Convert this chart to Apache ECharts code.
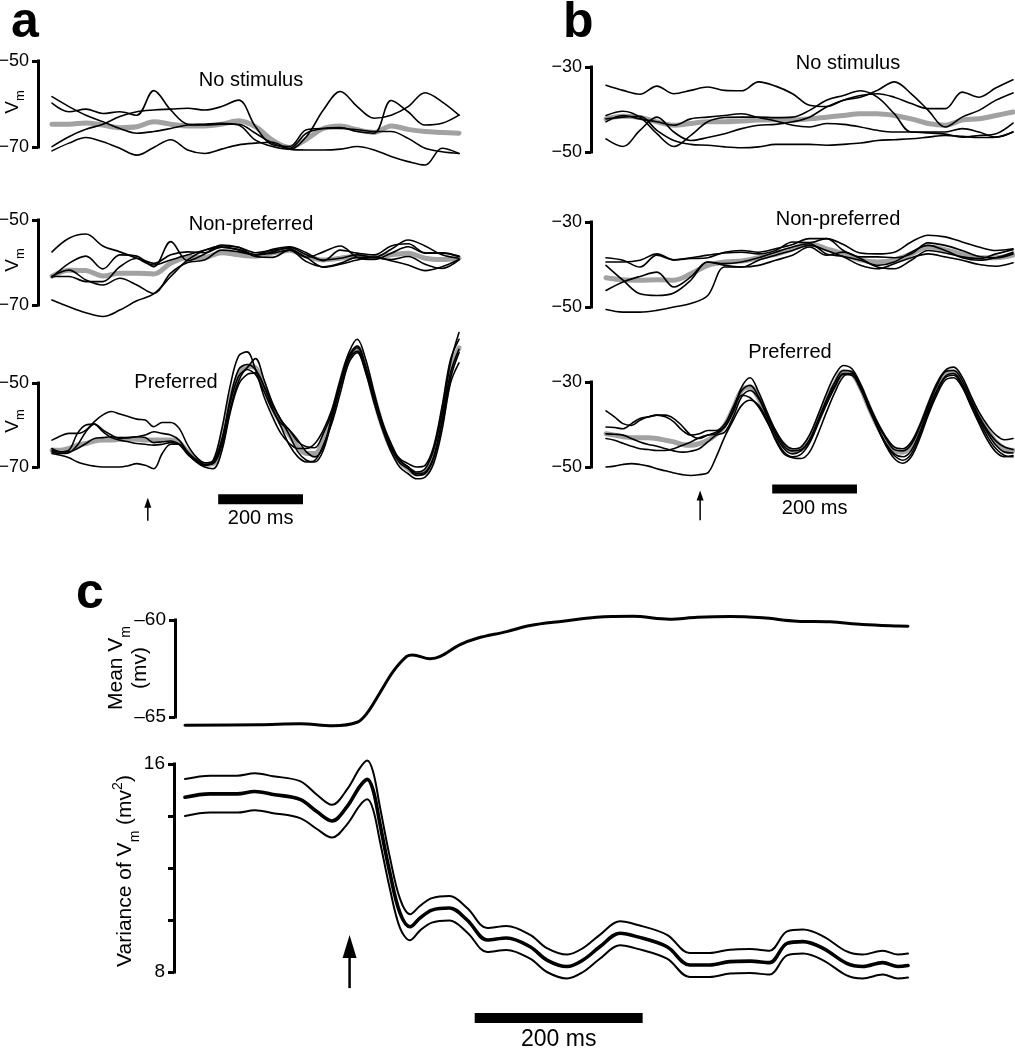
<!DOCTYPE html>
<html><head><meta charset="utf-8">
<script src="https://cdn.jsdelivr.net/npm/echarts@6/dist/echarts.min.js"></script>
<style>html,body{margin:0;padding:0;background:#fff}#chart{width:1015px;height:1050px}</style>
</head><body><div id="chart"></div>
<script>
// ---------- time bases (ms) ----------
const tA = [0,40,80,120,160,200,240,280,320,360,400,440,480,520,560,600,640,680,720,760,800,840,880,920,960];
const tP = [0,20,40,60,80,100,120,140,160,180,200,220,240,260,280,300,320,340,360,380,400,420,440,460,480,500,520,540,560,580,600,620,640,660,680,700,720,740,760,780,800,820,840,860,880,900,920,940,960];

// ---------- panel a, no stimulus (mV) ----------
const a1Trace1 = [-58.3,-60.6,-62.6,-64.1,-65.7,-66.8,-66.4,-65.7,-64.9,-64.7,-64.5,-64.9,-68.4,-69.9,-70.5,-67.6,-61.4,-57.1,-60.6,-63.3,-62.6,-60.6,-57.4,-59.5,-62.6];
const a1Trace2 = [-59.8,-61.8,-61.2,-62.2,-61.8,-62.6,-56.9,-61.4,-64.7,-64.9,-64.7,-64.7,-66.8,-69.1,-70.3,-66.8,-65.7,-65.5,-66.4,-66.8,-59.2,-61.8,-64.9,-64.5,-62.6];
const a1Trace3 = [-69.9,-67.6,-65.9,-64.7,-62.9,-61.8,-61.4,-61.2,-61.0,-61.4,-60.6,-59.1,-65.3,-69.5,-69.9,-66.0,-65.7,-65.7,-66.0,-66.4,-66.4,-68.0,-70.3,-71.1,-71.5];
const a1Trace4 = [-70.9,-69.1,-67.8,-68.8,-70.3,-71.9,-70.1,-68.3,-70.7,-71.5,-70.5,-69.5,-69.1,-68.9,-70.5,-70.7,-70.7,-70.5,-69.9,-70.7,-72.2,-73.4,-74.2,-70.3,-71.5];
const a1Mean   = [-64.7,-64.7,-64.4,-64.9,-65.5,-65.3,-64.1,-64.7,-65.1,-65.1,-64.7,-63.9,-65.3,-68.4,-70.1,-68.2,-65.7,-65.1,-66.0,-66.6,-65.1,-65.9,-66.4,-66.6,-66.8];

// ---------- panel a, non-preferred ----------
const a2Trace1 = [-57.5,-54.3,-53.3,-56.1,-57.5,-59.0,-60.6,-59.4,-58.2,-57.1,-56.4,-57.1,-58.2,-57.5,-56.4,-58.2,-59.4,-59.0,-58.2,-58.8,-56.9,-54.7,-56.1,-58.2,-59.0];
const a2Trace2 = [-63.5,-60.2,-58.5,-61.5,-58.2,-58.5,-61.0,-55.1,-59.6,-58.0,-55.9,-56.4,-57.7,-57.1,-56.7,-58.8,-57.5,-56.1,-58.8,-59.3,-57.8,-56.3,-57.8,-57.8,-58.6];
const a2Trace3 = [-63.2,-61.8,-64.1,-65.3,-63.7,-65.3,-67.3,-62.5,-60.0,-59.4,-57.1,-57.5,-58.2,-57.8,-57.1,-59.8,-61.0,-60.2,-58.8,-58.8,-59.3,-58.6,-60.4,-61.4,-59.4];
const a2Trace4 = [-68.8,-70.4,-71.8,-72.7,-71.2,-69.0,-67.4,-63.3,-59.4,-57.1,-56.1,-56.4,-58.6,-58.8,-57.1,-58.8,-61.1,-60.4,-59.4,-58.8,-59.6,-60.6,-61.9,-61.0,-59.3];
const a2Trace5 = [-63.3,-63.3,-64.5,-64.5,-61.0,-59.0,-60.2,-58.2,-57.5,-57.7,-56.4,-56.9,-58.2,-56.9,-56.3,-57.7,-59.6,-57.1,-57.8,-58.2,-56.1,-55.6,-57.7,-57.7,-58.5];
const a2Mean   = [-63.2,-61.8,-61.9,-63.2,-62.5,-62.5,-62.7,-60.2,-58.8,-58.8,-57.7,-58.2,-58.5,-57.8,-57.1,-58.5,-59.4,-59.0,-58.5,-58.8,-58.2,-57.8,-59.0,-59.3,-59.0];

// ---------- panel a, preferred ----------
const a3Trace1 = [-63.6,-62.6,-62.0,-62.0,-61.2,-59.2,-57.6,-56.8,-57.4,-58.0,-58.6,-58.8,-60.4,-59.4,-59.4,-60.8,-64.8,-67.6,-69.0,-68.4,-61.2,-50.8,-43.6,-42.6,-46.8,-53.2,-58.0,-62.0,-64.4,-65.6,-65.6,-64.4,-61.2,-56.4,-49.2,-42.8,-39.6,-44.4,-52.4,-59.6,-64.4,-68.4,-70.0,-71.2,-70.4,-66.0,-57.2,-45.2,-38.0];
const a3Trace2 = [-65.6,-66.4,-66.0,-62.0,-60.0,-59.8,-61.2,-62.4,-63.2,-63.0,-62.8,-62.4,-61.6,-62.0,-62.4,-63.6,-66.4,-68.4,-69.4,-68.8,-63.6,-54.8,-48.4,-46.4,-44.2,-49.2,-54.8,-58.8,-61.2,-64.0,-65.2,-65.4,-62.0,-57.2,-50.0,-43.6,-41.2,-46.0,-53.2,-59.6,-65.2,-68.0,-69.2,-70.0,-69.6,-65.2,-55.6,-44.4,-39.6];
const a3Trace3 = [-66.0,-66.4,-66.4,-65.6,-64.4,-63.2,-63.0,-62.8,-63.0,-63.0,-62.8,-63.0,-64.2,-64.0,-63.8,-64.6,-66.6,-68.2,-69.4,-69.2,-65.2,-56.4,-49.6,-46.8,-48.0,-52.0,-56.4,-59.6,-61.2,-63.6,-66.4,-67.6,-65.2,-58.0,-50.8,-44.4,-42.4,-46.8,-54.0,-60.4,-65.6,-68.4,-70.0,-71.6,-71.2,-67.6,-58.8,-47.6,-42.0];
const a3Trace4 = [-66.8,-67.2,-67.8,-68.8,-69.4,-69.8,-70.0,-70.0,-70.0,-69.7,-69.2,-69.6,-70.4,-66.8,-64.6,-64.6,-66.8,-68.8,-70.0,-70.4,-66.4,-57.2,-50.4,-48.0,-47.6,-50.8,-56.0,-60.4,-64.8,-67.6,-68.8,-68.4,-64.8,-59.6,-52.4,-45.2,-42.8,-47.6,-54.8,-61.2,-66.4,-70.0,-71.6,-72.8,-72.4,-69.2,-61.2,-50.0,-45.2];
const a3Trace5 = [-66.4,-66.8,-66.6,-64.8,-61.6,-59.8,-61.6,-63.0,-63.6,-64.0,-64.4,-64.6,-64.8,-64.6,-64.2,-64.6,-67.0,-68.6,-69.6,-69.0,-64.4,-54.0,-46.8,-45.6,-46.8,-50.8,-55.2,-58.8,-62.4,-66.4,-68.4,-68.8,-66.0,-58.8,-50.8,-44.0,-41.6,-46.4,-53.6,-60.4,-65.6,-69.0,-70.4,-72.0,-71.6,-68.0,-59.6,-48.8,-42.8];
const a3Mean   = [-66.0,-66.0,-65.6,-64.8,-64.4,-63.8,-63.6,-63.6,-63.4,-63.4,-63.4,-63.6,-63.6,-63.6,-63.6,-64.2,-66.4,-68.2,-69.4,-69.2,-64.0,-54.4,-48.0,-46.0,-46.4,-50.8,-55.8,-59.6,-62.4,-65.2,-66.8,-66.8,-63.6,-58.0,-50.4,-44.0,-41.6,-46.0,-53.6,-60.4,-65.6,-68.8,-70.4,-71.6,-71.2,-67.2,-58.4,-47.2,-41.6];

// ---------- panel b, no stimulus ----------
const b1Trace1 = [-34.3,-35.5,-36.4,-34.5,-36.3,-35.5,-34.7,-35.5,-35.6,-33.5,-34.5,-36.3,-39.0,-39.3,-37.8,-36.7,-36.3,-37.1,-38.6,-39.8,-39.8,-35.9,-37.1,-34.9,-33.0];
const b1Trace2 = [-41.4,-40.4,-41.8,-45.7,-48.7,-46.1,-42.9,-41.9,-41.8,-41.8,-41.9,-41.8,-40.2,-37.8,-36.7,-35.6,-37.1,-41.0,-45.3,-45.3,-45.3,-44.5,-45.3,-46.5,-45.3];
const b1Trace3 = [-42.2,-41.8,-41.6,-44.9,-47.3,-48.2,-48.4,-48.8,-49.0,-48.8,-48.2,-48.2,-48.2,-48.4,-48.2,-47.9,-47.3,-47.1,-46.9,-46.5,-46.1,-46.3,-46.6,-46.5,-45.3];
const b1Trace4 = [-46.9,-48.7,-44.9,-41.8,-45.3,-47.3,-46.6,-45.7,-44.5,-43.7,-43.5,-42.9,-41.8,-39.4,-37.8,-37.1,-35.5,-33.5,-36.3,-40.2,-44.1,-41.8,-40.2,-37.8,-36.1];
const b1Trace5 = [-42.9,-41.4,-42.2,-42.9,-43.7,-42.2,-41.8,-41.4,-41.0,-41.9,-42.7,-43.7,-44.1,-43.3,-43.5,-44.1,-44.9,-45.3,-45.3,-45.5,-45.8,-46.5,-46.1,-45.7,-43.2];
const b1Mean   = [-42.2,-41.6,-41.9,-42.9,-43.7,-43.3,-42.9,-42.9,-42.7,-42.5,-42.4,-42.5,-42.2,-41.8,-41.4,-41.0,-41.0,-41.4,-42.2,-43.3,-43.7,-42.5,-42.2,-41.4,-40.6];

// ---------- panel b, non-preferred ----------
const b2Trace1 = [-38.4,-39.0,-40.6,-37.8,-38.9,-38.6,-38.4,-37.1,-36.7,-37.1,-36.3,-35.3,-33.9,-33.9,-35.3,-37.3,-37.5,-37.1,-34.7,-33.1,-33.5,-34.7,-35.9,-36.7,-36.3];
const b2Trace2 = [-40.2,-43.7,-46.9,-47.3,-46.7,-43.7,-39.4,-40.2,-40.6,-39.0,-37.8,-36.7,-35.5,-36.7,-38.2,-40.2,-41.0,-39.8,-38.4,-37.5,-38.2,-39.0,-40.0,-40.4,-39.6];
const b2Trace3 = [-46.1,-44.1,-42.8,-41.8,-45.3,-42.9,-39.4,-39.8,-39.4,-38.4,-37.1,-35.9,-35.1,-37.5,-38.1,-39.0,-40.2,-39.4,-37.1,-35.5,-36.7,-38.4,-39.0,-38.4,-37.1];
const b2Trace4 = [-50.6,-51.2,-51.2,-50.8,-50.0,-49.2,-47.3,-40.6,-40.6,-40.2,-39.0,-37.8,-35.9,-37.8,-37.1,-38.6,-40.6,-41.0,-39.0,-36.7,-37.3,-38.2,-38.6,-37.5,-36.5];
const b2Trace5 = [-39.4,-39.4,-39.0,-37.5,-38.9,-38.4,-37.8,-37.3,-37.1,-37.5,-36.7,-34.7,-34.9,-33.9,-36.7,-38.2,-38.2,-38.4,-37.5,-34.9,-35.5,-36.7,-38.1,-38.4,-37.5];
const b2Mean   = [-43.1,-43.6,-43.7,-43.6,-43.7,-42.2,-40.2,-39.4,-39.2,-38.4,-37.6,-36.3,-35.1,-36.3,-37.5,-38.9,-39.4,-38.9,-37.5,-35.9,-36.5,-37.6,-38.4,-38.4,-37.8];

// ---------- panel b, preferred ----------
const b3Trace1 = [-36.8,-38.2,-39.8,-40.2,-39.0,-38.2,-37.8,-37.8,-38.6,-40.4,-42.5,-43.3,-42.5,-41.8,-40.6,-36.7,-31.2,-29.0,-32.4,-37.1,-41.4,-44.5,-45.7,-45.3,-42.5,-37.8,-32.7,-28.4,-26.1,-26.9,-30.4,-35.1,-39.4,-42.9,-45.3,-45.7,-44.1,-40.2,-35.1,-30.4,-27.3,-26.5,-28.8,-33.1,-37.1,-40.2,-42.5,-43.6,-43.3];
const b3Trace2 = [-40.6,-40.7,-41.0,-39.8,-38.6,-38.2,-37.8,-38.2,-39.4,-41.4,-42.5,-42.2,-41.4,-41.4,-39.9,-35.9,-32.0,-30.8,-33.5,-37.8,-41.8,-45.1,-46.2,-45.9,-43.6,-39.0,-34.2,-30.0,-27.3,-27.6,-30.8,-35.5,-39.8,-43.3,-45.9,-46.2,-44.7,-40.6,-35.7,-31.0,-27.6,-27.3,-29.6,-33.9,-38.1,-41.4,-43.9,-45.3,-45.9];
const b3Trace3 = [-42.2,-42.3,-42.5,-43.3,-44.1,-44.7,-45.1,-45.7,-46.2,-46.5,-46.3,-45.7,-44.1,-42.5,-41.8,-38.2,-33.5,-32.0,-33.9,-38.2,-42.5,-45.7,-46.9,-46.2,-43.9,-39.4,-34.7,-30.8,-28.0,-28.0,-31.2,-36.3,-40.6,-44.4,-46.9,-47.6,-46.1,-41.8,-36.5,-32.0,-28.7,-28.0,-30.4,-34.7,-38.6,-42.0,-44.9,-46.5,-46.7];
const b3Trace4 = [-43.3,-43.7,-44.4,-45.1,-45.7,-45.9,-46.1,-46.1,-45.7,-44.9,-44.1,-43.1,-42.5,-42.2,-40.6,-37.1,-33.1,-33.7,-35.9,-39.4,-43.3,-46.5,-47.6,-47.0,-44.4,-39.8,-35.3,-31.2,-28.2,-28.4,-31.6,-36.0,-40.6,-44.7,-47.3,-48.4,-46.9,-42.5,-37.1,-32.4,-29.0,-28.4,-30.8,-35.1,-39.2,-42.9,-45.7,-47.3,-47.6];
const b3Trace5 = [-50.0,-49.8,-49.4,-49.2,-49.4,-49.8,-50.4,-50.9,-51.4,-51.8,-52.0,-51.8,-51.4,-47.6,-42.9,-39.0,-35.5,-34.3,-35.5,-39.0,-43.7,-46.9,-47.8,-48.0,-46.5,-42.2,-37.1,-32.4,-28.7,-28.0,-30.8,-35.5,-40.6,-44.9,-48.0,-49.1,-47.6,-43.3,-37.8,-33.1,-29.6,-29.0,-31.2,-35.5,-39.8,-43.7,-46.5,-47.6,-47.3];
const b3Mean   = [-42.2,-42.5,-42.9,-43.1,-43.1,-43.1,-43.3,-43.7,-44.1,-44.7,-44.9,-44.5,-43.7,-42.3,-40.2,-36.3,-32.0,-31.2,-33.9,-38.2,-42.2,-44.9,-46.1,-45.7,-43.3,-39.0,-34.3,-30.4,-27.6,-28.0,-31.2,-35.9,-40.2,-43.7,-46.1,-46.5,-44.9,-41.0,-35.9,-31.2,-28.0,-27.6,-29.9,-34.3,-38.2,-41.4,-44.1,-45.7,-46.1];

// ---------- panel c ----------
const tMeanC  = [0,89,137,176,205,217,232,248,264,271,292,304,327,348,383,411,450,490,533,577,610,649,688,729,768,807,849,861];
const meanVmC = [-65.43,-65.40,-65.35,-65.45,-65.27,-64.79,-63.76,-62.65,-61.88,-61.80,-62.00,-61.88,-61.28,-60.94,-60.60,-60.28,-60.06,-59.86,-59.81,-59.96,-59.86,-59.82,-59.89,-60.06,-60.09,-60.23,-60.31,-60.32];
const tVarC    = [0,30,62,83,105,137,157,175,193,208,217,224,232,244,256,268,280,294,315,336,360,383,411,431,455,474,494,518,538,574,601,625,649,673,696,717,736,760,788,807,831,849,861];
const varMeanC = [14.72,14.85,14.85,14.94,14.83,14.64,14.17,13.81,14.36,15.13,15.41,15.0,13.73,11.81,10.27,9.74,10.08,10.38,10.46,10.0,9.23,9.31,8.97,8.46,8.21,8.46,8.97,9.49,9.36,8.97,8.27,8.27,8.40,8.42,8.36,9.1,9.17,8.91,8.33,8.21,8.36,8.21,8.25];
const varUpperC= [15.42,15.55,15.55,15.64,15.53,15.34,14.82,14.43,15.02,15.83,16.13,15.70,14.38,12.41,10.82,10.22,10.55,10.84,10.92,10.46,9.69,9.77,9.43,8.92,8.67,8.92,9.43,9.95,9.82,9.43,8.73,8.73,8.86,8.88,8.82,9.56,9.63,9.37,8.79,8.67,8.82,8.67,8.71];
const varLowerC= [14.0,14.13,14.13,14.22,14.11,13.92,13.5,13.17,13.68,14.4,14.64,14.25,13.05,11.2,9.7,9.22,9.6,9.9,9.98,9.52,8.77,8.85,8.51,8.0,7.75,8.0,8.51,9.03,8.9,8.51,7.81,7.81,7.94,7.96,7.9,8.64,8.71,8.45,7.87,7.75,7.9,7.75,7.79];

// ---------- annotations: scale bars [fromMs, toMs, level], arrows [ms, tail, tip] ----------
const scaleA = [392, 592, -77.7];
const arrowA = [226, -82.8, -77.3];
const scaleB = [392, 592, -55.2];
const arrowB = [222, -62.5, -55.5];
const scaleC = [345, 545, 6.23];
const arrowC = [196, 7.38, 9.42];
const scaleLabel = '200 ms';
const rowTitles = ['No stimulus', 'Non-preferred', 'Preferred'];
const ticksA = [-70, -50];
const ticksB = [-50, -30];
const ticksMeanC = [-65, -60];
const ticksVarC = [8, 10, 12, 14, 16];
const labelsVarC = [8, 16];

// ---------- build ----------
const FONT = "'Liberation Sans', Arial, Helvetica, sans-serif";
const GRAY = '#a2a2a2';
const zip = (t, v) => t.map((x, i) => [x, v[i]]);

const grids = [
  {left:52, top:61, width:407, height:86},
  {left:52, top:220, width:407, height:85},
  {left:52, top:383, width:407, height:84},
  {left:606, top:67, width:407, height:85},
  {left:606, top:222, width:407, height:85},
  {left:606, top:382, width:407, height:85},
  {left:185, top:620, width:723, height:97},
  {left:185, top:764, width:723, height:208}
].map(g => Object.assign({containLabel:false, outerBoundsMode:'none'}, g));

const xAxes = grids.map((g, i) => ({gridIndex:i, type:'value', min:0, max: i < 6 ? 960 : 861, show:false}));

function yAx(gi, min, max, ticks, labels, offset, fmt, fs) {
  return {gridIndex:gi, type:'value', min, max, offset,
    axisLine:{show:true, onZero:false, lineStyle:{color:'#000', width:3, cap:'square'}},
    axisTick:{show:true, customValues:ticks, length:6, lineStyle:{color:'#000', width:3}},
    axisLabel:{show:true, customValues:labels, formatter:fmt, color:'#000', fontFamily:FONT, fontSize:fs, margin:9},
    splitLine:{show:false}};
}
const minus = v => '\u2212' + Math.abs(v);
const dash = v => '\u2013' + Math.abs(v);
const yAxes = [
  yAx(0, -70, -50, ticksA, ticksA, 14, minus, 18),
  yAx(1, -70, -50, ticksA, ticksA, 14, minus, 18),
  yAx(2, -70, -50, ticksA, ticksA, 14, minus, 18),
  yAx(3, -50, -30, ticksB, ticksB, 15, minus, 18),
  yAx(4, -50, -30, ticksB, ticksB, 15, minus, 18),
  yAx(5, -50, -30, ticksB, ticksB, 15, minus, 18),
  yAx(6, -65, -60, ticksMeanC, ticksMeanC, 10, dash, 19),
  yAx(7, 8, 16, ticksVarC, labelsVarC, 11, v => String(v), 19)
];

const series = [];
function lineS(gi, t, v, color, width, z) {
  series.push({type:'line', xAxisIndex:gi, yAxisIndex:gi, data:zip(t, v), showSymbol:false, symbol:'none',
    smooth:0.35, clip:false, silent:true, z, lineStyle:{color, width, join:'round', cap:'round'}});
}
function panel(gi, t, traces, mean) {
  lineS(gi, t, mean, GRAY, 5, 2);
  traces.forEach(tr => lineS(gi, t, tr, '#000', 1.6, 3));
}
panel(0, tA, [a1Trace1, a1Trace2, a1Trace3, a1Trace4], a1Mean);
panel(1, tA, [a2Trace1, a2Trace2, a2Trace3, a2Trace4, a2Trace5], a2Mean);
panel(2, tP, [a3Trace1, a3Trace2, a3Trace3, a3Trace4, a3Trace5], a3Mean);
panel(3, tA, [b1Trace1, b1Trace2, b1Trace3, b1Trace4, b1Trace5], b1Mean);
panel(4, tA, [b2Trace1, b2Trace2, b2Trace3, b2Trace4, b2Trace5], b2Mean);
panel(5, tP, [b3Trace1, b3Trace2, b3Trace3, b3Trace4, b3Trace5], b3Mean);
lineS(6, tMeanC, meanVmC, '#000', 3, 3);
lineS(7, tVarC, varUpperC, '#000', 2, 3);
lineS(7, tVarC, varMeanC, '#000', 3.6, 3);
lineS(7, tVarC, varLowerC, '#000', 2, 3);

function scaleS(gi, item, thick, gap, fs) {
  series.push({type:'custom', xAxisIndex:gi, yAxisIndex:gi, clip:false, silent:true, data:[item],
    renderItem:(p, api) => {
      const a = api.coord([api.value(0), api.value(2)]);
      const b = api.coord([api.value(1), api.value(2)]);
      return {type:'group', children:[
        {type:'rect', shape:{x:a[0], y:a[1]-thick/2, width:b[0]-a[0], height:thick}, style:{fill:'#000'}},
        {type:'text', x:(a[0]+b[0])/2, y:a[1]+gap, style:{text:scaleLabel, fill:'#000', fontSize:fs, fontFamily:FONT, align:'center', verticalAlign:'middle'}}
      ]};
    }});
}
function arrowS(gi, item, headLen, headW, lw) {
  series.push({type:'custom', xAxisIndex:gi, yAxisIndex:gi, clip:false, silent:true, data:[item],
    renderItem:(p, api) => {
      const b = api.coord([api.value(0), api.value(1)]);
      const t = api.coord([api.value(0), api.value(2)]);
      return {type:'group', children:[
        {type:'line', shape:{x1:b[0], y1:b[1], x2:t[0], y2:t[1]+headLen-1}, style:{stroke:'#000', lineWidth:lw}},
        {type:'polygon', shape:{points:[[t[0], t[1]], [t[0]-headW/2, t[1]+headLen], [t[0]+headW/2, t[1]+headLen]]}, style:{fill:'#000'}}
      ]};
    }});
}
scaleS(2, scaleA, 10, 19, 20);
arrowS(2, arrowA, 10, 7, 1.5);
scaleS(5, scaleB, 9, 19, 20);
arrowS(5, arrowB, 10, 7, 1.5);
scaleS(7, scaleC, 10, 22, 23);
arrowS(7, arrowC, 23, 14, 2.5);

function txt(text, x, y, fs, extra) {
  return Object.assign({type:'text', x, y, silent:true,
    style:{text, fill:'#000', fontSize:fs, fontFamily:FONT, align:'center', verticalAlign:'middle'}}, extra || {});
}
function letter(ch, x, y) {
  return {type:'text', x, y, silent:true, style:{text:ch, fill:'#000', fontSize:50, fontWeight:'bold', fontFamily:FONT, align:'left', verticalAlign:'middle'}};
}
const vmRich = {
  v:{fontSize:19, fontFamily:FONT, lineHeight:20, verticalAlign:'top', fill:'#000'},
  s:{fontSize:13, fontFamily:FONT, lineHeight:13, padding:[11,0,0,0], verticalAlign:'top', fill:'#000'}
};
function vmLabel(x, y) {
  return {type:'text', x, y, rotation:Math.PI/2, silent:true,
    style:{text:'{v|V}{s|m}', rich:vmRich, align:'center', verticalAlign:'middle'}};
}
const cRich = {
  n:{fontSize:21, fontFamily:FONT, lineHeight:24, padding:[4,0,0,0], verticalAlign:'top', fill:'#000'},
  s:{fontSize:14, fontFamily:FONT, lineHeight:14, padding:[17,0,0,0], verticalAlign:'top', fill:'#000'},
  p:{fontSize:14, fontFamily:FONT, lineHeight:14, padding:[0,0,0,0], verticalAlign:'top', fill:'#000'}
};
const graphics = [
  letter('a', 11, 23), letter('b', 563, 23), letter('c', 76, 594),
  txt(rowTitles[0], 251, 80, 20), txt(rowTitles[1], 251, 224, 20), txt(rowTitles[2], 176, 382, 20),
  txt(rowTitles[0], 848, 63, 20), txt(rowTitles[1], 838, 219, 20), txt(rowTitles[2], 790, 352, 20),
  vmLabel(13, 102), vmLabel(13, 260), vmLabel(13, 421),
  {type:'text', x:126, y:668, rotation:Math.PI/2, silent:true,
    style:{text:'{n|Mean V}{s|m}\n{n|(mv)}', rich:cRich, align:'center', verticalAlign:'middle'}},
  {type:'text', x:123, y:871, rotation:Math.PI/2, silent:true,
    style:{text:'{n|Variance of V}{s|m}{n| (mv}{p|2}{n|)}', rich:cRich, align:'center', verticalAlign:'middle'}}
];

const chart = echarts.init(document.getElementById('chart'), null, {renderer:'canvas'});
chart.setOption({
  animation:false,
  backgroundColor:'#fff',
  grid:grids, xAxis:xAxes, yAxis:yAxes, series,
  graphic:{elements:graphics}
});
</script>
</body></html>
